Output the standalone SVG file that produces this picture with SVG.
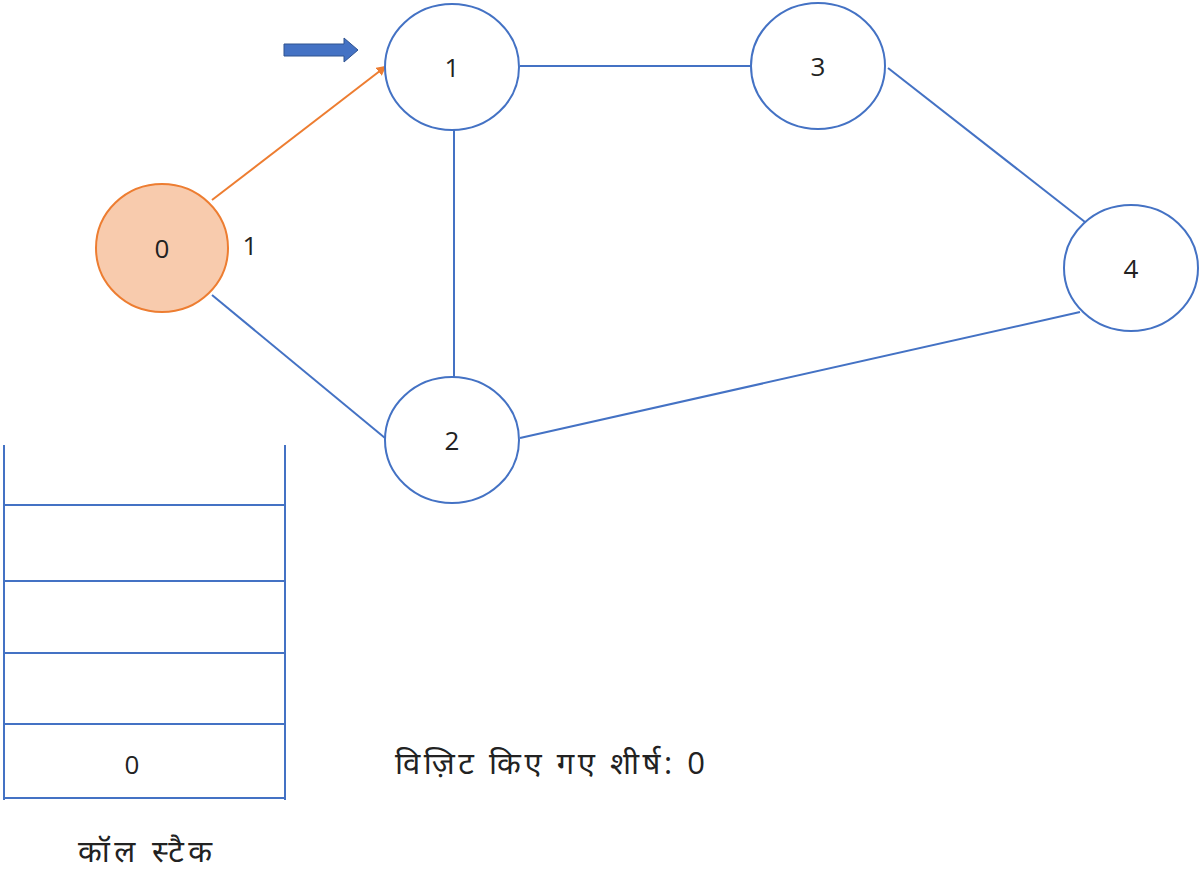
<svg xmlns="http://www.w3.org/2000/svg" width="1200" height="893" viewBox="0 0 1200 893">
<style>
.n{fill:#fff;stroke:#4472c4;stroke-width:2}
.e{stroke:#4472c4;stroke-width:2;fill:none}
.t{font-family:"Open Sans","Noto Sans",sans-serif;font-size:26px;fill:#222;text-anchor:middle}
.d{font-size:31px}
</style>
<defs><marker id="oa" markerWidth="10" markerHeight="10" refX="8" refY="5" orient="auto" markerUnits="userSpaceOnUse"><path d="M0,0L10,5L0,10z" fill="#ed7d31"/></marker></defs>
<rect width="1200" height="893" fill="#fff"/>
<g id="connectors">
<line class="e" x1="520" y1="66" x2="751" y2="66"/>
<line class="e" x1="888" y1="68" x2="1085" y2="222"/>
<line class="e" x1="454" y1="130" x2="454" y2="377"/>
<line class="e" x1="212" y1="295" x2="385" y2="438"/>
<line class="e" x1="520" y1="438" x2="1080" y2="312"/>
<line x1="212" y1="200" x2="385" y2="67" stroke="#ed7d31" stroke-width="2" marker-end="url(#oa)"/>
</g>
<g id="node0"><ellipse cx="162" cy="248" rx="66" ry="64" fill="#f8cbad" stroke="#ed7d31" stroke-width="2"/><text class="t" x="162" y="258">0</text></g>
<g id="node1"><ellipse class="n" cx="452" cy="67" rx="67" ry="63"/><text class="t" x="452" y="77">1</text></g>
<g id="node3"><ellipse class="n" cx="818" cy="66" rx="67" ry="63"/><text class="t" x="818" y="76">3</text></g>
<g id="node4"><ellipse class="n" cx="1131" cy="268" rx="67" ry="63"/><text class="t" x="1131" y="278">4</text></g>
<g id="node2"><ellipse class="n" cx="452" cy="440" rx="67" ry="63"/><text class="t" x="452" y="450">2</text></g>
<text class="t" x="250" y="255">1</text>
<path d="M284,44H344V38L358,50L344,62V56H284z" fill="#4472c4" stroke="#2f528f" stroke-width="1"/>
<g id="stack" class="e">
<line x1="4" y1="445" x2="4" y2="800"/><line x1="285" y1="445" x2="285" y2="800"/>
<line x1="4" y1="505" x2="285" y2="505"/><line x1="4" y1="581" x2="285" y2="581"/>
<line x1="4" y1="653" x2="285" y2="653"/><line x1="4" y1="724" x2="285" y2="724"/>
<line x1="4" y1="798" x2="285" y2="798"/>
</g>
<text class="t" x="132" y="774">0</text>
<text class="t d" x="78" y="862" style="text-anchor:start" textLength="134" lengthAdjust="spacing">कॉल स्टैक</text>
<text class="t d" x="395" y="774" style="text-anchor:start" textLength="310" lengthAdjust="spacing">विज़िट किए गए शीर्ष: 0</text>
</svg>
